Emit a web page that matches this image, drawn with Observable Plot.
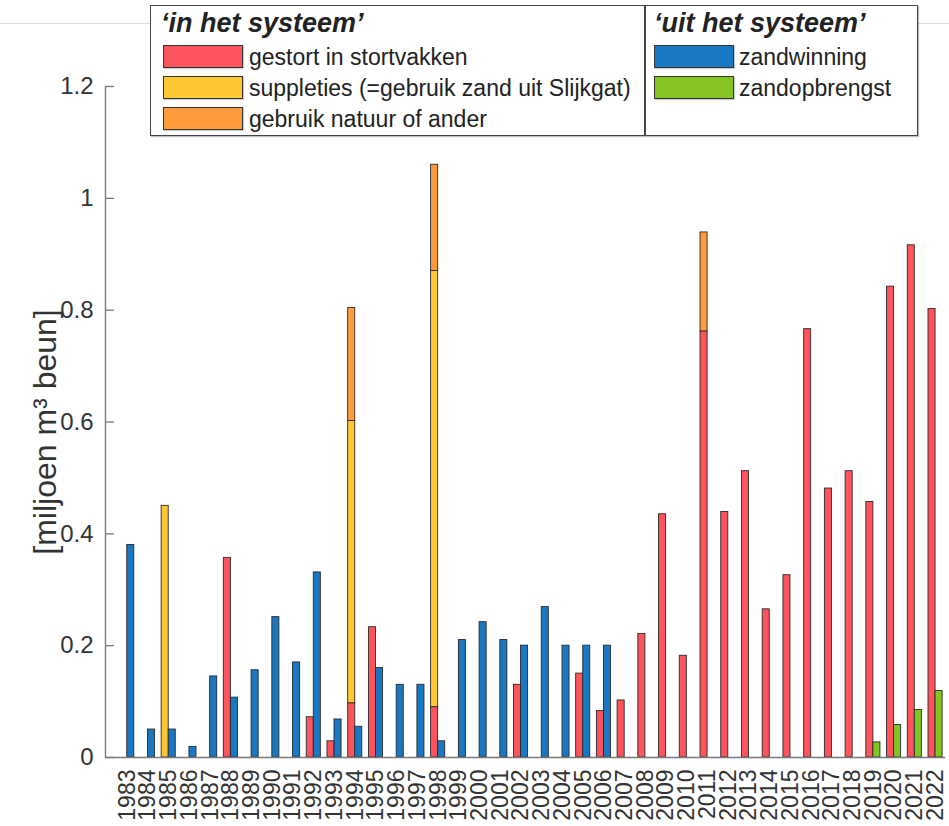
<!DOCTYPE html>
<html>
<head>
<meta charset="utf-8">
<script src="https://cdn.jsdelivr.net/npm/d3@7"></script>
<script src="https://cdn.jsdelivr.net/npm/@observablehq/plot@0.6"></script>
<style>
  html, body { margin: 0; padding: 0; background: #fff; }
  #wrap { position: relative; width: 949px; height: 826px; overflow: hidden; font-family: "Liberation Sans", Arial, sans-serif; }
  #topline { position: absolute; left: 0; top: 23px; width: 949px; height: 1px; background: #dcdcdc; }
  #legend { position: absolute; left: 150px; top: 5px; width: 766px; height: 129px; background: #fff; border: 1.5px solid #444; box-shadow: 1px 1px 1px rgba(0,0,0,0.25); color: #222; }
  #legend .div { position: absolute; left: 493px; top: 0; width: 1.5px; height: 100%; background: #444; }
  #legend .title { position: absolute; font-weight: bold; font-style: italic; font-size: 27px; line-height: 1; }
  #legend .sw { position: absolute; width: 78px; height: 21px; border: 1.2px solid #333; box-shadow: 1px 1px 1px rgba(0,0,0,0.2); }
  #legend .lab { position: absolute; font-size: 23px; line-height: 1; }
</style>
</head>
<body>
<div id="wrap">
  <div id="chart"></div>
  <div id="topline"></div>
  <div id="legend"></div>
</div>
<script>
const years = d3.range(1983, 2023);
// 'in het systeem' (stacked, left bar of each year)
const gestort      = [0,0,0,0,0,0.357,0,0,0,0.072,0.029,0.097,0.233,0,0,0.090,0,0,0,0.130,0,0,0.150,0.083,0.102,0.221,0.435,0.182,0.762,0.439,0.512,0.265,0.326,0.766,0.481,0.512,0.457,0.842,0.916,0.802];
const suppleties   = [0,0,0.45,0,0,0,0,0,0,0,0,0.505,0,0,0,0.780,0,0,0,0,0,0,0,0,0,0,0,0,0,0,0,0,0,0,0,0,0,0,0,0];
const natuur       = [0,0,0,0,0,0,0,0,0,0,0,0.202,0,0,0,0.190,0,0,0,0,0,0,0,0,0,0,0,0,0.177,0,0,0,0,0,0,0,0,0,0,0];
// 'uit het systeem' (right bar of each year)
const zandwinning  = [0.380,0.050,0.050,0.019,0.145,0.107,0.156,0.251,0.170,0.331,0.068,0.055,0.160,0.130,0.130,0.029,0.210,0.242,0.210,0.200,0.269,0.200,0.200,0.200,0,0,0,0,0,0,0,0,0,0,0,0,0,0,0,0];
const zandopbrengst= [0,0,0,0,0,0,0,0,0,0,0,0,0,0,0,0,0,0,0,0,0,0,0,0,0,0,0,0,0,0,0,0,0,0,0,0,0.027,0.058,0.085,0.119];

const categories = ["gestort in stortvakken","suppleties (=gebruik zand uit Slijkgat)","gebruik natuur of ander","zandwinning","zandopbrengst"];
const colors = ["#FF545C","#FFC832","#FF9B3A","#1A78C2","#84C524"];
const yTicks = [0, 0.2, 0.4, 0.6, 0.8, 1, 1.2];
const yLabel = "[miljoen m³ beun]";

const groups = [
  {side: "in",  series: [[categories[0], gestort], [categories[1], suppleties], [categories[2], natuur]]},
  {side: "out", series: [[categories[3], zandwinning], [categories[4], zandopbrengst]]}
];
const barW = 0.34;
const rows = [];
years.forEach((yr, i) => {
  for (const g of groups) {
    let acc = 0;
    for (const [cat, vals] of g.series) {
      const v = vals[i];
      if (v > 0) {
        rows.push({year: yr, side: g.side, cat, y1: acc, y2: acc + v});
        acc += v;
      }
    }
  }
});

const x0 = 1981.95, xEnd = 2022.48;
const chart = Plot.plot({
  width: 949, height: 826,
  marginLeft: 105, marginRight: 4, marginTop: 86, marginBottom: 69,
  style: {fontFamily: "'Liberation Sans', Arial, sans-serif", background: "transparent", overflow: "visible"},
  x: {domain: [x0, xEnd], axis: null},
  y: {domain: [0, 1.2], axis: null},
  color: {domain: categories, range: colors},
  marks: [
    Plot.rect(rows, {
      x1: d => d.side === "in" ? d.year - barW : d.year,
      x2: d => d.side === "in" ? d.year : d.year + barW,
      y1: "y1", y2: "y2", fill: "cat", stroke: "#2a2a2a", strokeWidth: 0.9
    }),
    Plot.tickY(yTicks, {y: d => d, stroke: "#7a7a7a", strokeWidth: 1.3, insetRight: 831}),
    Plot.ruleX([x0], {stroke: "#7a7a7a", strokeWidth: 1.4}),
    Plot.ruleY([0], {stroke: "#7a7a7a", strokeWidth: 1.4}),
    Plot.axisY({ticks: yTicks, tickSize: 0, tickPadding: 12, fontSize: 24, label: null, color: "#333",
      tickFormat: d => String(+d.toFixed(1))}),
    Plot.axisX({ticks: years, tickSize: 0, tickPadding: 12, tickRotate: -90, fontSize: 23, label: null, color: "#333",
      tickFormat: d => String(d)}),
    Plot.text([yLabel], {text: d => d, frameAnchor: "left", textAnchor: "middle", rotate: -90, dx: -60, dy: 10, fontSize: 32, fill: "#333"})
  ]
});
document.getElementById("chart").appendChild(chart);

// legend
const lg = document.getElementById("legend");
const add = (cls, css, txt) => { const e = document.createElement("div"); e.className = cls; Object.assign(e.style, css); if (txt) e.textContent = txt; lg.appendChild(e); return e; };
add("div", {});
add("title", {left: "10px", top: "4px"}, "‘in het systeem’");
add("title", {left: "503px", top: "4px"}, "‘uit het systeem’");
const leftCats = [0, 1, 2], rightCats = [3, 4];
leftCats.forEach((ci, r) => {
  add("sw", {left: "12px", top: (39 + r * 31) + "px", background: colors[ci]});
  add("lab", {left: "98px", top: (40 + r * 31) + "px"}, categories[ci]);
});
rightCats.forEach((ci, r) => {
  add("sw", {left: "503px", top: (39 + r * 31) + "px", background: colors[ci]});
  add("lab", {left: "588px", top: (40 + r * 31) + "px"}, categories[ci]);
});
</script>
</body>
</html>
